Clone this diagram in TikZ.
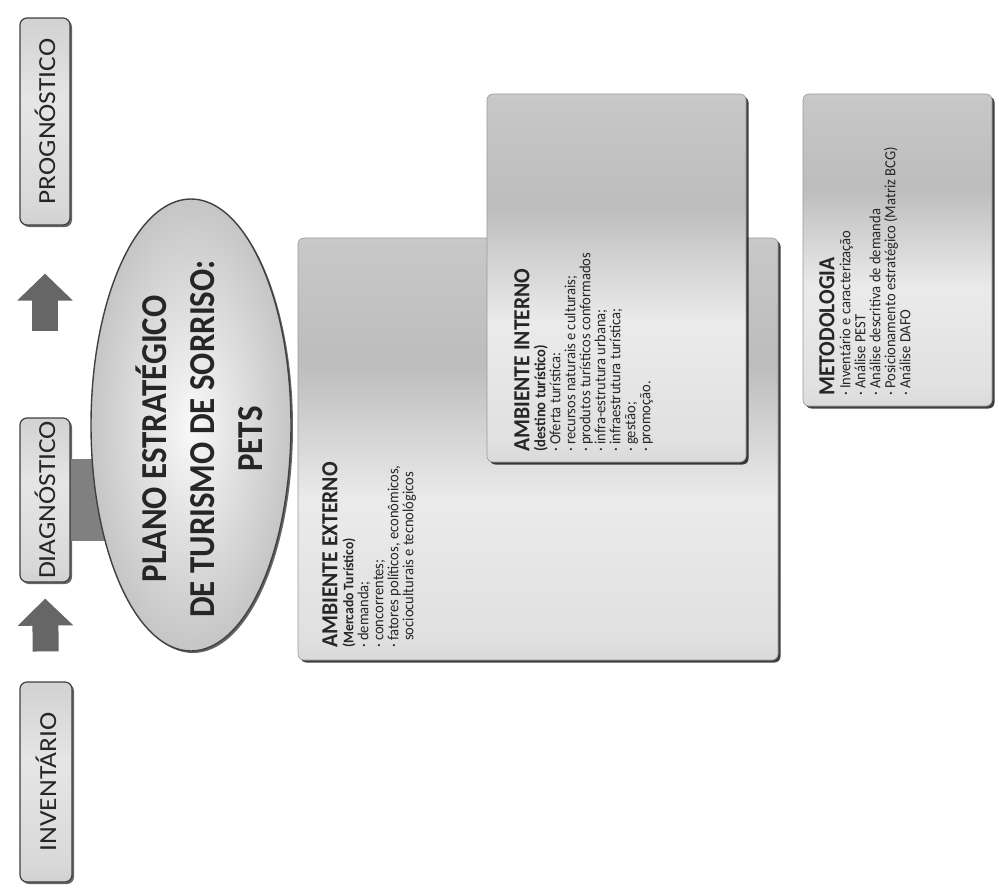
\documentclass[tikz,border=0pt]{standalone}
\usepackage{fontspec}
\setmainfont{Carlito}
\newfontfamily\widefont[FakeStretch=1.12]{Carlito}
\newfontfamily\condfont[FakeStretch=0.94]{Carlito}
\newfontfamily\ellfont[FakeStretch=0.9]{Carlito}
\usetikzlibrary{shapes.geometric,shadows,calc,arrows.meta}
\pgfdeclarehorizontalshading{bandsA}{100bp}{color(0bp)=(gray!58); color(12bp)=(gray!50); color(28bp)=(gray!24); color(44bp)=(gray!16); color(60bp)=(gray!52); color(74bp)=(gray!44); color(88bp)=(gray!16); color(100bp)=(gray!32)}
\pgfdeclarehorizontalshading{labelsh}{100bp}{color(0bp)=(gray!65); color(30bp)=(gray!30); color(55bp)=(gray!20); color(100bp)=(gray!55)}
\begin{document}
\begin{tikzpicture}[x=1pt,y=-1pt,
  lblbox/.style={rectangle, rounded corners=7pt, draw=black!75, line width=1.2pt,
    shading=labelsh, shading angle=90, drop shadow={shadow xshift=2pt,shadow yshift=-2pt,fill=black,opacity=0.6},
    font=\widefont\fontsize{24.5}{25}\selectfont, text=black!85, inner sep=0pt},
  bigbox/.style={rectangle, rounded corners=6pt, draw=black!40, line width=0.6pt,
    shading=bandsA, shading angle=90, drop shadow={shadow xshift=2.5pt,shadow yshift=-2.5pt,fill=black,opacity=0.75}, inner sep=0pt},
  boxtext/.style={rotate=90, anchor=north west, align=left, inner sep=0pt, text=black!85,
    font=\condfont\fontsize{15.5}{15}\selectfont},
  fatarrow/.style={line width=26pt, draw=black!60, -{Triangle[length=27pt,width=54pt]}},
  bar/.style={line width=82pt, draw=black!50},
  ellbox/.style={ellipse, draw=black!75, line width=1.4pt, inner color=gray!5, outer color=gray!45,
    drop shadow={shadow xshift=2pt,shadow yshift=-2pt,fill=black,opacity=0.6}, inner sep=0pt}
]
\useasboundingbox (0,0) rectangle (999,892);
\fill[white] (0,0) rectangle (999,892);
\newcommand{\hdtxt}[1]{{\bfseries\fontsize{23}{22}\selectfont #1}}

% left column
\node[lblbox, minimum width=50pt, minimum height=207pt] (prog) at (45,121.5) {\rotatebox{90}{PROGNÓSTICO}};
\node[lblbox, minimum width=50pt, minimum height=164pt] (diag) at (45,500) {\rotatebox{90}{DIAGNÓSTICO}};
\node[lblbox, minimum width=52pt, minimum height=200pt] (inv) at (46,782) {\rotatebox{90}{INVENTÁRIO}};

\draw[fatarrow, shorten <=30pt, shorten >=16pt] (inv.north) -- (diag.south);
\draw[fatarrow, shorten <=86pt, shorten >=48pt] (diag.north) -- (prog.south);

% central ellipse
\draw[bar] (diag.east) -- (diag.east -| 191,0);
\node[ellbox, minimum width=200pt, minimum height=452pt] (ell) at (191,425) {};
\node[rotate=90, align=center, inner sep=0pt, text=black!85,
  font=\ellfont\bfseries\fontsize{36.5}{48}\selectfont] (ellT) at ($(ell.center)+(8,14)$)
  {PLANO ESTRATÉGICO\\DE TURISMO DE SORRISO:\\PETS};

% big boxes
\node[bigbox, minimum width=480pt, minimum height=422pt] (ext) at (538,449) {};
\node[boxtext] (extT) at (322,648)
  {\hdtxt{AMBIENTE EXTERNO}\\[1pt]
   {\bfseries\fontsize{14.5}{15}\selectfont (Mercado Turístico)}\\
   · demanda;\\
   · concorrentes;\\
   · fatores políticos, econômicos,\\
   \hphantom{· }socioculturais e tecnológicos};

\node[bigbox, minimum width=259pt, minimum height=368pt] (int) at (616.5,278) {};
\node[boxtext] (intT) at (514,452)
  {\hdtxt{AMBIENTE INTERNO}\\[1pt]
   {\bfseries (destino turístico)}\\
   · Oferta turística:\\
   · recursos naturais e culturais;\\
   · produtos turísticos conformados\\
   · infra-estrutura urbana;\\
   · infraestrutura turística;\\
   · gestão;\\
   · promoção.};

\node[bigbox, minimum width=189pt, minimum height=312pt] (met) at (897.5,250) {};
\node[boxtext] (metT) at (819,396)
  {\hdtxt{METODOLOGIA}\\[1pt]
   · Inventário e caracterização\\
   · Análise PEST\\
   · Análise descritiva de demanda\\
   · Posicionamento estratégico (Matriz BCG)\\
   · Análise DAFO};
\end{tikzpicture}
\end{document}
